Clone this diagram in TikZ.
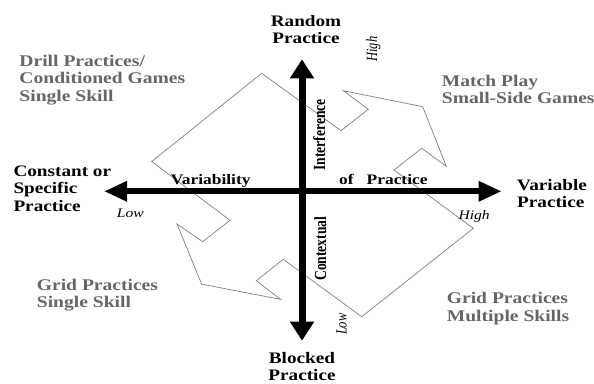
\documentclass[tikz,border=0pt]{standalone}
\usepackage{fontspec}
\usetikzlibrary{arrows.meta}
\newfontfamily\widefont{Liberation Serif}[FakeStretch=1.2]
\newfontfamily\narrowfont{Liberation Serif}[FakeStretch=0.8]
\newcommand\mystack[2][l]{\begin{tabular}[t]{@{}#1@{}}#2\end{tabular}}
\definecolor{labelgrey}{gray}{0.40}
\definecolor{shapegrey}{gray}{0.50}
\tikzset{
  bigtext/.style={inner sep=0pt, font={\widefont\bfseries\fontsize{16}{17.5}\selectfont}},
  greytext/.style={inner sep=0pt, text=labelgrey, font={\widefont\bfseries\fontsize{16.3}{17.7}\selectfont}},
  axistext/.style={inner sep=0pt, font={\widefont\bfseries\fontsize{14.5}{16}\selectfont}},
  rottext/.style={inner sep=0pt, rotate=90, anchor=base, font={\narrowfont\bfseries\fontsize{17}{18}\selectfont}},
  lowhigh/.style={inner sep=0pt, font={\widefont\itshape\fontsize{13}{14}\selectfont}},
  rotlowhigh/.style={inner sep=0pt, rotate=90, anchor=base, font={\narrowfont\itshape\fontsize{15.6}{16}\selectfont}},
  outline/.style={draw=shapegrey, line width=0.7pt, line join=miter},
  haxis/.style={line width=6pt, {Triangle[length=23pt,width=19pt]}-{Triangle[length=23pt,width=19pt]}},
  vaxis/.style={line width=7pt, {Triangle[length=19pt,width=23pt]}-{Triangle[length=19pt,width=23pt]}},
}
\begin{document}
\begin{tikzpicture}[x=1pt,y=-1pt]
\useasboundingbox (0,0) rectangle (594,383);
% outline polygon
\draw[outline] (261.7,73.3) -- (341,130.7) -- (368.3,109.3) -- (343.3,90.7)
  -- (422.7,106.7) -- (446.3,166.3) -- (421.7,148.3) -- (394,170)
  -- (473.3,228.3) -- (361.7,316.7) -- (283.3,259.3) -- (256.3,280.7)
  -- (280.5,299.3) -- (201.7,284.2) -- (177,224) -- (202.7,241.7)
  -- (230,220.3) -- (151.7,161.5) -- cycle;
% axes
\coordinate (L) at (104,191.3);
\coordinate (R) at (501.7,191.3);
\coordinate (T) at (302,59.3);
\coordinate (B) at (302,340.7);
\draw[haxis] (L) -- (R);
\draw[vaxis] (B) -- (T);
% end labels
\node[bigtext, anchor=base] (random) at (306,26) {\mystack[c]{Random\\Practice}};
\node[bigtext, anchor=base] (blocked) at (302,363) {\mystack[c]{Blocked\\Practice}};
\node[bigtext, anchor=base west] (constant) at (13.3,176) {\mystack{Constant or\\Specific\\Practice}};
\node[bigtext, anchor=base west] (variable) at (517,190) {\mystack{Variable\\Practice}};
% quadrant labels
\node[greytext, anchor=base west] (drill) at (19.3,66) {\mystack{Drill Practices/\\Conditioned Games\\Single Skill}};
\node[greytext, anchor=base west] (match) at (441.7,86) {\mystack{Match Play\\Small-Side Games}};
\node[greytext, anchor=base west] (gridss) at (36.7,290) {\mystack{Grid Practices\\Single Skill}};
\node[greytext, anchor=base west] (gridms) at (446.7,303.3) {\mystack{Grid Practices\\Multiple Skills}};
% axis texts
\node[axistext, anchor=base west] (variab) at (170.7,184) {Variability};
\node[axistext, anchor=base west] (ofpr) at (339,184) {of\hspace{13pt}Practice};
\node[rottext] (interf) at (325,135) {Interference};
\node[rottext] (context) at (326,248.7) {Contextual};
% low / high
\node[lowhigh, anchor=base west] (lowl) at (116.7,217.7) {Low};
\node[lowhigh, anchor=base west] (highr) at (458.3,219.3) {High};
\node[rotlowhigh] (hight) at (377,49.2) {High};
\node[rotlowhigh] (lowb) at (346.5,324.2) {Low};
\end{tikzpicture}
\end{document}
